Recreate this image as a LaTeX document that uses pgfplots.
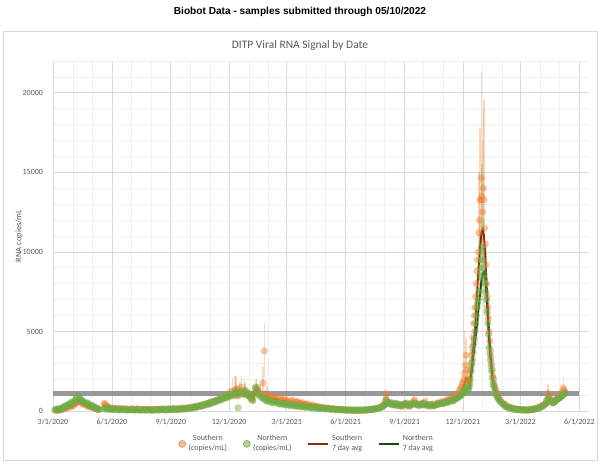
\documentclass[border=0pt]{standalone}
\usepackage{fontspec}
\setmainfont{Carlito}
\newfontfamily\arialfont{Liberation Sans}
\usepackage{pgfplots}
\usepackage{pgfplotstable}
\pgfplotsset{compat=1.18}

\definecolor{sorange}{HTML}{ED7D31}
\definecolor{ngreen}{HTML}{70AD47}
\definecolor{savg}{HTML}{862A0C}
\definecolor{navg}{HTML}{1E4512}
\definecolor{tgray}{HTML}{595959}
\definecolor{gmaj}{HTML}{D9D9D9}
\definecolor{gmin}{HTML}{EFEFEF}

% days counted from 3/1/2020
\pgfplotstableread{
d    s     n     sa    na
3    40    70    nan   nan
6    60    110   nan   nan
9    50    90    55    90
12   90    150   70    120
15   120   200   100   170
18   160   300   140   240
21   220   260   190   290
24   260   420   240   360
27   330   380   300   410
30   300   520   330   470
33   420   600   380   540
36   480   820   450   650
39   560   700   520   700
42   700   880   560   720
45   480   640   540   660
48   520   560   480   580
51   380   480   420   500
54   300   520   360   440
57   340   380   310   380
60   240   320   270   320
63   260   260   230   260
66   160   220   190   210
69   120   150   150   160
72   100   120   120   130
75   nan   nan   nan   nan
80   480   150   nan   nan
82   380   130   300   140
85   250   120   250   130
88   180   140   200   130
91   150   100   160   120
94   130   120   140   110
98   160   90    140   100
102  120   110   130   100
106  140   80    130   95
110  110   100   120   90
114  130   70    115   85
118  100   90    110   80
122  120   60    105   75
126  90    80    100   70
130  110   70    100   70
134  80    90    95    75
138  100   60    90    70
142  90    80    90    70
146  70    60    85    65
150  100   70    85    65
154  80    50    85    60
158  90    70    85    65
162  110   80    95    70
166  90    60    95    70
170  100   90    100   75
174  120   70    105   80
178  90    80    105   80
182  110   100   105   85
186  130   90    115   90
190  100   110   115   100
194  140   100   125   105
198  120   130   130   115
202  160   120   140   125
206  150   150   150   140
210  180   140   165   150
214  200   180   185   170
218  230   210   210   195
222  260   250   240   230
226  300   280   280   270
230  340   320   320   310
234  380   370   360   350
238  430   400   410   390
242  480   460   460   440
246  520   560   510   500
250  600   580   570   560
254  650   640   630   620
258  720   700   700   680
262  780   760   760   740
266  850   820   820   800
270  900   880   880   860
274  1000  940   940   900
278  1250  1000  1000  950
282  1100  1050  1050  1000
286  1400  1100  1100  1050
289  950   200   1100  1000
292  1200  1150  1150  1050
296  1050  1100  1150  1080
300  1300  1200  1150  1100
304  1000  1050  1100  1050
308  900   800   950   850
312  700   650   800   700
316  1400  1500  1300  1350
320  1500  1250  1250  1200
324  1100  900   1000  950
328  1760  800   980   850
330  3770  750   960   780
332  900   700   950   750
336  850   650   850   650
340  800   600   800   600
344  900   550   780   560
348  700   500   720   520
352  750   480   700   490
356  650   450   660   460
360  700   420   640   430
364  600   400   600   410
368  550   380   570   390
372  620   360   560   370
376  500   350   530   350
380  560   320   510   330
384  480   300   480   310
388  450   280   450   290
392  420   260   420   270
396  380   250   390   250
400  350   230   360   235
404  320   220   330   220
408  300   200   300   205
412  260   190   270   190
416  240   170   245   175
420  210   160   220   160
424  190   150   195   150
428  170   130   175   135
432  150   120   155   120
436  130   110   135   110
440  110   100   120   100
444  100   90    105   90
448  90    80    95    80
452  80    70    85    72
456  70    60    75    65
460  60    55    65    58
464  55    50    58    52
468  50    45    52    48
472  45    50    50    48
476  55    45    50    48
480  50    55    52    50
484  60    50    55    52
488  70    60    62    56
492  80    75    72    66
496  100   90    88    80
500  120   110   105   98
504  150   130   130   120
508  190   170   165   150
512  250   220   215   195
516  350   300   290   260
519  650   420   400   340
520  1000  700   440   380
523  500   550   480   430
527  450   480   470   460
531  420   380   440   420
535  380   450   410   410
539  350   400   380   390
543  320   350   350   370
547  380   420   350   380
551  420   450   380   400
555  300   380   360   390
559  400   350   370   380
563  600   480   430   410
567  450   400   450   420
571  350   380   420   400
575  400   420   400   400
579  500   450   430   420
583  380   350   420   400
587  320   360   380   380
591  400   380   370   370
595  350   320   360   350
599  450   400   390   370
603  500   420   430   400
607  550   480   480   440
611  500   520   510   480
615  650   550   560   520
619  700   600   620   570
623  800   650   700   620
627  900   700   780   670
631  1000  800   880   750
635  1300  900   1050  850
638  1500  1000  1250  950
641  1800  1200  1500  1100
643  2400  1400  1800  1250
645  3500  1300  2050  1350
647  2000  1500  2000  1400
649  1600  1400  1800  1450
651  2200  1700  1900  1600
653  3000  2500  2500  2200
655  4000  3200  3300  2800
657  5500  4200  4300  3600
659  6500  5000  5200  4300
661  8000  6000  6500  5000
663  9500  6800  8000  5800
665  11200 7500  9200  6600
667  13270 9000  10300 7400
669  14650 10300 11200 8200
671  12500 9500  11400 8600
673  13270 8600  11000 8750
675  10500 8000  9800  8300
677  8000  7000  8050  7200
679  6500  5500  6500  5800
681  5000  4000  4900  4400
683  3800  3200  3800  3300
685  3000  2500  2800  2500
687  2200  1800  2000  1800
689  1700  1500  1600  1400
692  1300  1000  1200  1000
695  900   800   950   800
698  700   600   700   600
702  500   450   500   450
706  400   300   380   320
710  280   220   280   240
714  220   170   220   180
718  160   130   165   135
722  130   100   130   105
726  110   80    110   85
730  90    70    95    72
734  80    60    82    62
738  70    55    72    56
742  80    60    72    58
746  100   80    85    68
750  130   100   110   88
754  160   130   140   115
758  220   170   190   150
762  300   240   250   210
766  380   330   330   290
770  500   450   430   390
773  1100  800   600   550
776  800   700   700   620
779  600   550   650   580
782  550   520   580   550
785  700   620   620   580
788  800   750   700   660
791  900   820   800   740
794  1000  900   880   820
797  1450  1050  1000  920
800  1200  1130  1050  980
}\biobot

% further samples between the dates above
\pgfplotstableread{
d    s     n
5    70    120
8    40    60
11   110   180
14   80    140
17   200   260
20   180   350
23   320   330
26   240   470
29   380   560
32   350   480
35   520   700
38   620   900
41   580   760
44   560   700
47   420   620
50   460   500
53   420   420
56   260   440
59   300   300
62   200   350
65   220   200
68   140   180
71   80    90
81   420   200
84   300   160
87   220   100
90   200   150
93   100   80
96   180   140
100  90    130
104  170   60
108  80    120
112  160   90
116  120   50
120  80    110
124  150   80
128  60    60
132  140   100
136  100   40
140  70    110
144  120   50
148  90    90
152  60    80
156  120   40
160  70    100
164  130   60
168  80    110
172  140   90
176  70    60
180  150   120
184  90    70
188  170   130
192  120   80
196  100   140
200  190   100
204  130   170
208  210   130
212  170   210
216  250   160
220  220   260
224  310   220
228  270   330
232  380   290
236  340   420
240  470   380
244  430   510
248  560   470
252  540   620
256  690   590
260  660   760
264  820   710
268  790   880
272  950   830
276  900   1050
280  1150  950
284  1300  1150
287  1000  1250
290  1350  1050
294  1500  1200
298  1100  1300
302  1250  1000
306  950   1100
310  800   750
314  1000  1100
318  1300  1400
322  1200  1000
326  1000  850
334  1100  600
338  700   700
342  950   500
346  800   600
350  650   550
354  850   420
358  600   500
362  800   380
366  650   450
370  500   330
374  700   400
378  550   300
382  600   350
386  500   250
390  520   320
394  400   220
398  450   280
402  300   200
406  380   240
410  280   170
414  300   210
418  220   140
422  230   180
426  160   120
430  190   150
434  140   100
438  150   130
442  120   80
446  110   100
450  100   70
454  90    80
458  70    50
462  80    65
466  60    40
470  70    60
474  40    40
478  65    55
482  45    45
486  75    65
490  65    55
494  95    80
498  110   100
502  140   120
506  170   150
510  220   190
514  300   260
517  450   380
521  700   500
525  550   450
529  400   520
533  480   400
537  320   480
541  420   360
545  280   400
549  480   380
553  350   500
557  450   320
561  500   420
565  700   500
569  380   450
573  450   350
577  380   480
581  600   400
585  420   380
589  300   420
593  450   330
597  380   380
601  520   450
605  480   500
609  620   450
613  580   600
617  750   520
621  650   680
625  950   620
629  850   780
633  1100  850
636  1400  950
639  1700  1100
642  2000  1300
644  2900  1200
646  2600  1400
648  1800  1300
650  1900  1500
652  2600  2000
654  3500  2900
656  4600  3700
658  6000  4500
660  7200  5500
662  8800  6500
664  10000 7000
666  12000 8500
668  13270 9500
670  13500 10000
672  14000 9000
674  11500 8300
676  9200  7500
678  7200  6200
680  5800  4800
682  4400  3600
684  3400  2800
686  2600  2100
688  2000  1600
690  1500  1300
693  1100  900
696  800   700
700  600   520
704  450   380
708  330   260
712  250   200
716  190   150
720  150   110
724  120   90
728  100   75
732  85    65
736  75    60
740  70    50
744  90    70
748  115   90
752  145   115
756  190   150
760  260   200
764  340   280
768  440   390
771  700   600
774  900   750
777  700   620
780  580   500
783  620   560
786  750   680
789  850   780
792  950   850
795  1200  950
798  1300  1050
799  1100  1100
}\extra

% points with long error bars: day, value, plus, minus
\pgfplotstableread{
d    v     ep    em
280  1250  850   500
284  1300  900   600
286  1400  800   600
292  1200  600   400
294  1500  700   500
300  1300  600   500
318  1300  700   400
328  1760  1000  800
330  3770  1730  1700
334  1100  500   400
520  1000  400   300
563  600   400   200
625  950   400   300
636  1400  700   500
639  1700  900   600
643  2400  2700  1000
645  3500  1100  1500
654  3500  1500  1000
665  11200 3800  3000
667  13270 4500  3500
669  14650 6650  4000
671  12500 4500  3000
672  14000 5000  4000
673  13270 6290  4000
677  8000  2500  2000
773  1100  600   400
774  900   500   300
797  1450  650   500
}\serr

\pgfplotstableread{
d    v     ep    em
287  1250  600   500
300  1200  500   400
316  1500  500   500
318  1400  600   500
660  5500  2000  1500
664  7000  3000  2000
667  9000  3000  2500
669  10300 5000  3000
670  10000 5500  3000
673  8600  3500  2500
795  950   300   200
}\nerr

\begin{document}
\begin{tikzpicture}
\useasboundingbox (0,0) rectangle (450pt,348pt);
\draw[gmaj, line width=0.6pt] (2.25pt,3pt) rectangle (447.75pt,324.75pt);
\node[font=\arialfont\bfseries\fontsize{7.6}{9}\selectfont] at (225pt,339pt) {Biobot Data - samples submitted through 05/10/2022};
\node[font=\fontsize{8.6}{10}\selectfont, text=tgray] at (225pt,313.5pt) {DITP Viral RNA Signal by Date};
\begin{axis}[
  at={(39.75pt,39.75pt)}, anchor=south west,
  scale only axis, width=402pt, height=262.5pt,
  xmin=0, xmax=837, ymin=0, ymax=22000,
  axis x line*=bottom, axis y line*=left,
  axis line style={draw=gmaj, line width=0.6pt},
  major tick length=0pt, minor tick length=0pt,
  xtick={0,92,184,275,365,457,549,640,730,822},
  xticklabels={3/1/2020,6/1/2020,9/1/2020,12/1/2020,3/1/2021,6/1/2021,9/1/2021,12/1/2021,3/1/2022,6/1/2022},
  minor xtick={31,61,122,153,214,245,306,337,396,426,487,518,579,610,671,702,761,791},
  ytick={0,5000,10000,15000,20000},
  yticklabels={0,5000,10000,15000,20000},
  scaled y ticks=false,
  minor ytick={1000,2000,...,22000},
  grid=both,
  major grid style={draw=gmaj, line width=0.5pt},
  minor grid style={draw=gmin, line width=0.5pt},
  ticklabel style={font=\fontsize{6}{7}\selectfont, text=tgray},
  xticklabel style={yshift=-2.5pt},
  yticklabel style={xshift=-4pt},
  ylabel={RNA copies/mL},
  ylabel shift=-7pt,
  ylabel style={font=\fontsize{6.4}{7}\selectfont, text=tgray},
  legend columns=4,
  legend style={at={(0.474,-0.094)}, anchor=center, draw=none, fill=none,
    font=\fontsize{6}{7.2}\selectfont, text=tgray, cells={align=center},
    /tikz/every even column/.append style={column sep=10pt}},
  legend image code/.code={\draw[#1] (0pt,0pt) -- (15pt,0pt);},
  spoint/.style={only marks, mark=*, mark size=2.7pt,
    mark options={fill=sorange, draw opacity=0, fill opacity=0.45}},
  npoint/.style={only marks, mark=*, mark size=2.7pt,
    mark options={fill=ngreen, draw opacity=0, fill opacity=0.5}},
]
\addplot[draw=none, forget plot, error bars/.cd, y dir=both, y explicit,
  error mark=none, error bar style={draw=sorange, opacity=0.3, line width=1pt}]
  table[x=d, y=v, y error plus=ep, y error minus=em]{\serr};
\addplot[draw=none, forget plot, error bars/.cd, y dir=both, y explicit,
  error mark=none, error bar style={draw=ngreen, opacity=0.25, line width=1pt}]
  table[x=d, y=v, y error plus=ep, y error minus=em]{\nerr};

\addplot[spoint,
  legend image code/.code={\fill[sorange, fill opacity=0.5] (7pt,0pt) circle (2.6pt);}]
  table[x=d, y=s]{\biobot};
\addplot[spoint, forget plot] table[x=d, y=s]{\extra};
\addplot[npoint,
  legend image code/.code={\fill[ngreen, fill opacity=0.55] (7pt,0pt) circle (2.6pt);}]
  table[x=d, y=n]{\biobot};
\addplot[npoint, forget plot] table[x=d, y=n]{\extra};
\addplot[savg, line width=1.4pt, unbounded coords=jump] table[x=d, y=sa]{\biobot};
\addplot[navg, line width=1.4pt, unbounded coords=jump] table[x=d, y=na]{\biobot};

\addplot[draw=gray, line width=3.6pt, opacity=0.8, forget plot] coordinates {(0,1100) (822,1100)};

\legend{{Southern\\(copies/mL)}, {Northern\\(copies/mL)}, {Southern\\7 day avg}, {Northern\\7 day avg}}
\end{axis}
\end{tikzpicture}
\end{document}
